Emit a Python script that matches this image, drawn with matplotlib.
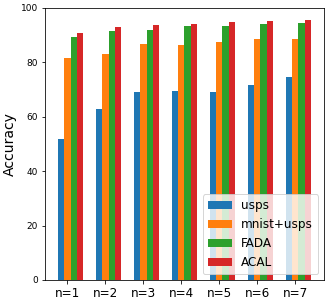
import numpy as np
import matplotlib
matplotlib.use('Agg')
from matplotlib import pyplot as plt

labels = ['n=1', 'n=2', 'n=3', 'n=4', 'n=5', 'n=6', 'n=7']
usps = [52.0, 62.7, 69.0, 69.4, 69.0, 71.6, 74.5]
mnist_usps = [81.5, 83.0, 86.7, 86.3, 87.5, 88.6, 88.6]
fada = [89.3, 91.5, 91.9, 93.4, 93.4, 94.1, 94.5]
acal = [90.9, 93.0, 93.7, 94.1, 94.8, 95.2, 95.6]


def main():
    fig, ax = plt.subplots(figsize=(333 / 72, 305 / 72), dpi=72)
    fig.subplots_adjust(left=0.135, right=0.973, top=0.974, bottom=0.082)

    x = np.arange(len(labels))
    w = 0.17
    ax.bar(x - w, usps, w, label='usps', color='#1f77b4')
    ax.bar(x, mnist_usps, w, label='mnist+usps', color='#ff7f0e')
    ax.bar(x + w, fada, w, label='FADA', color='#2ca02c')
    ax.bar(x + 2 * w, acal, w, label='ACAL', color='#d62728')

    ax.set_xticks(x)
    ax.set_xticklabels(labels, fontsize=12)
    ax.tick_params(axis='y', labelsize=9)
    ax.set_ylim(0, 100)
    ax.set_ylabel('Accuracy', fontsize=14)
    ax.legend(loc='lower right', fontsize=12)

    fig.savefig('out.png')


if __name__ == '__main__':
    main()
